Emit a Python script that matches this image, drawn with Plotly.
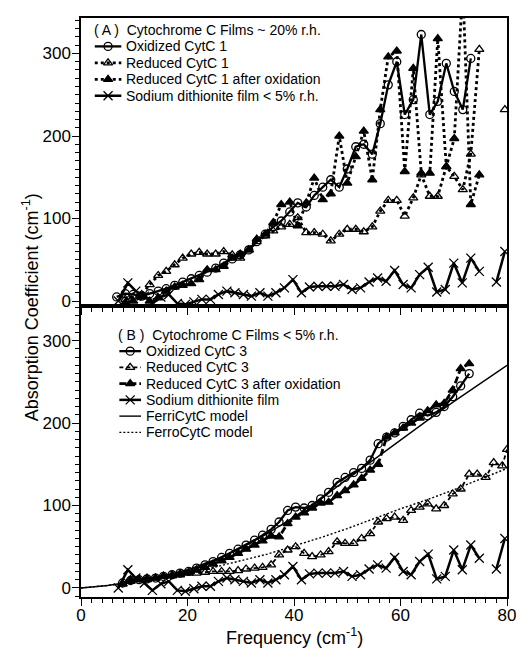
import plotly.graph_objects as go

# ---------------- Panel A data ----------------
oxA_x = [6.7, 8.3, 9.8, 11.4, 12.9, 14.5, 16.0, 17.6, 19.1, 20.7, 22.2, 23.7, 25.3, 26.8, 28.4, 29.9,
         31.5, 33.0, 34.6, 36.1, 37.6, 39.2, 40.7, 42.3, 43.8, 45.4, 46.9, 48.5, 50.0, 51.6, 53.1,
         54.7, 56.2, 57.7, 59.3, 60.8, 62.4, 63.9, 65.5, 67.0, 68.6, 70.1, 71.7, 73.2]
oxA_y = [5, 9, 8, 6, 9, 12, 15, 19, 23, 27, 31, 35, 40, 46, 51, 56,
         62, 72, 81, 90, 97, 108, 119, 114, 128, 138, 147, 138, 160, 187, 190,
         178, 215, 262, 290, 226, 244, 323, 226, 242, 288, 254, 232, 294]

redA_x = [8.3, 9.8, 11.4, 12.9, 14.5, 16.0, 17.6, 19.1, 20.7, 22.2, 23.7, 25.3, 26.8, 28.4, 29.9,
          31.5, 33.0, 34.6, 36.1, 37.6, 39.2, 40.7, 42.3, 43.8, 45.4, 46.9, 48.5, 50.0, 51.6, 53.1,
          54.7, 56.2, 57.7, 59.3, 60.8, 62.4, 63.9, 65.5, 67.0, 68.6, 70.1, 71.7, 73.2, 74.8, 77.2, 79.6]
redA_y = [2, 5, 8, 20, 31, 36, 44, 52, 57, 59, 57, 57, 60, 56, 52,
          62, 72, 79, 85, 90, 93, 101, 83, 83, 81, 73, 81, 87, 87, 84,
          90, 109, 122, 122, 103, 125, 153, 127, 127, 163, 151, 135, 178, 305, None, 232]

aftA_x = [8.3, 9.8, 11.4, 12.9, 14.5, 16.0, 17.6, 19.1, 20.7, 22.2, 23.7, 25.3, 26.8, 28.4, 29.9,
          31.5, 33.0, 34.6, 36.1, 37.6, 39.2, 40.7, 42.3, 43.8, 45.4, 46.9, 48.5, 50.0, 51.6, 53.1,
          54.7, 56.2, 57.7, 59.3, 60.8, 62.4, 63.9, 65.5, 67.0, 68.6, 70.1, 71.7, 73.2, 74.8]
aftA_y = [-2, 0, 5, 0, 4, 12, 17, 19, 21, 26, 38, 38, 42, 52, 57,
          62, 75, 81, 95, 117, 120, 91, 119, 149, 123, 130, 200, 143, 175, 206,
          147, 232, 296, 303, 157, 282, 155, 155, 318, 163, 197, 380, 117, 153]

# Sodium dithionite film (same data in both panels)
sod_x = [7.0, 8.8, 10.3, 11.9, 13.4, 15.0, 16.5, 18.1, 19.6, 21.2, 22.7, 24.3, 25.8, 27.4, 28.9,
         30.5, 32.0, 33.6, 35.1, 36.6, 38.2, 39.8, 41.4, 42.9, 44.5, 46.1, 47.7, 49.3, 50.9, 52.5,
         54.1, 55.7, 57.3, 58.9, 60.5, 62.0, 63.6, 65.2, 66.8, 68.4, 70.0, 71.6, 73.2, 74.8, 76.4,
         78.0, 79.6]
sod_y = [0, 22, 12, 6, -3, 5, 8, -3, -4, -1, 2, 2, 8, 12, 10,
         8, 6, 10, 6, 10, 16, 26, 10, 17, 18, 18, 18, 20, 14, 16,
         23, 28, 24, 37, 20, 16, 32, 41, 11, 14, 46, 22, 52, 36, None,
         23, 60]

# ---------------- Panel B data ----------------
b_x = [7.8, 9.3, 10.9, 12.4, 14.0, 15.5, 17.1, 18.6, 20.2, 21.7, 23.3, 24.8, 26.4, 27.9, 29.5,
       31.0, 32.6, 34.1, 35.7, 37.2, 38.8, 40.3, 41.9, 43.4, 45.0, 46.5, 48.1, 49.6, 51.2, 52.7,
       54.3, 55.8, 57.4, 58.9, 60.5, 62.0, 63.6, 65.1, 66.7, 68.2, 69.8, 71.3, 72.9]
oxB_y = [6, 9, 10, 11, 12, 14, 16, 18, 20, 24, 28, 32, 37, 42, 47,
         52, 58, 64, 71, 80, 94, 98, 97, 100, 108, 116, 128, 134, 140, 145,
         155, 175, 183, 188, 196, 204, 212, 209, 213, 220, 232, 245, 260]

redB_x = [7.8, 9.3, 10.9, 12.4, 14.0, 15.5, 17.1, 18.6, 20.2, 21.7, 23.3, 24.8, 26.4, 27.9, 29.5,
          31.0, 32.6, 34.1, 35.7, 37.2, 38.8, 40.3, 41.9, 43.4, 45.0, 46.5, 48.1, 49.6, 51.2, 52.7,
          54.3, 55.8, 57.4, 58.9, 60.5, 62.0, 63.6, 65.1, 66.7, 68.2, 69.8, 71.3, 72.9, 74.4, 76.0,
          77.5, 79.1, 80.0]
redB_y = [5, 10, 10, 12, 12, 14, 15, 16, 18, 18, 19, 20, 20, 20, 21,
          23, 24, 25, 28, 40, 46, 50, 42, 38, 40, 44, 56, 54, 54, 60,
          66, 80, 84, 86, 82, 94, 98, 102, 96, 100, 114, 120, 138, 138, 134,
          152, 148, 168]

aftB_y = [5, 8, 10, 10, 12, 14, 15, 17, 19, 22, 25, 29, 33, 37, 42,
          47, 52, 57, 63, 62, 78, 86, 91, 97, 103, 104, 112, 118, 125, 133,
          143, 150, 183, 188, 194, 200, 206, 215, 222, 224, 240, 266, 272]

model_x = [0, 5, 10, 15, 20, 25, 30, 35, 40, 45, 50, 55, 60, 65, 70, 75, 80]
ferri_y = [0, 3, 8, 14, 22, 34, 48, 66, 86, 108, 132, 156, 180, 203, 226, 248, 270]
ferro_y = [0, 3, 7, 12, 18, 25, 33, 41, 51, 61, 72, 84, 96, 107, 119, 132, 145]

x_ticks = [0, 20, 40, 60, 80]
y_ticks = [0, 100, 200, 300]

titleA = "( A )&nbsp;&nbsp;Cytochrome C Films ~ 20% r.h."
titleB = "( B )&nbsp;&nbsp;Cytochrome C Films < 5% r.h."

# ---------------- Figure ----------------
FONT = "Liberation Sans, Arial, Helvetica, sans-serif"
BLACK = "black"
OFF = 8                                  # page body margin of the browser
W, H = 524 - OFF, 650 - OFF              # figure size that fits the window without scrollbars
L, R, T, B = 81, 514, 16, 597            # plot-area edges in screen pixels
SPLIT_PX = 305                           # boundary between the two panels (screen px)

fig = go.Figure()

STYLES = {
    "ox":   dict(dash="solid", width=2.3, symbol="circle-open", size=8),
    "redA": dict(dash="dot", width=2.8, symbol="triangle-up-open", size=8),
    "aftA": dict(dash="dot", width=2.8, symbol="triangle-up", size=8),
    "sod":  dict(dash="solid", width=2.5, symbol="x-thin-open", size=9),
    "redB": dict(dash="4px,3px", width=1.8, symbol="triangle-up-open", size=8),
    "aftB": dict(dash="7px,3px", width=2.8, symbol="triangle-up", size=8),
    "ferri": dict(dash="solid", width=1.4, symbol=None, size=0),
    "ferro": dict(dash="2px,2px", width=1.4, symbol=None, size=0),
}


def add(x, y, name, style, xa, ya):
    s = STYLES[style]
    fig.add_trace(go.Scatter(
        x=x, y=y, name=name, mode="lines+markers" if s["symbol"] else "lines",
        line=dict(color=BLACK, width=s["width"], dash=s["dash"]),
        marker=dict(symbol=s["symbol"] or "circle", size=s["size"], color=BLACK,
                    line=dict(color=BLACK, width=1.3)),
        xaxis=xa, yaxis=ya, showlegend=False, connectgaps=False, cliponaxis=True))


# Panel A
add(oxA_x, oxA_y, "Oxidized CytC 1", "ox", "x", "y")
add(redA_x, redA_y, "Reduced CytC 1", "redA", "x", "y")
add(aftA_x, aftA_y, "Reduced CytC 1 after oxidation", "aftA", "x", "y")
add(sod_x, sod_y, "Sodium dithionite film < 5% r.h.", "sod", "x", "y")

# Panel B
add(model_x, ferri_y, "FerriCytC model", "ferri", "x2", "y2")
add(model_x, ferro_y, "FerroCytC model", "ferro", "x2", "y2")
add(b_x, oxB_y, "Oxidized CytC 3", "ox", "x2", "y2")
add(redB_x, redB_y, "Reduced CytC 3", "redB", "x2", "y2")
add(b_x, aftB_y, "Reduced CytC 3 after oxidation", "aftB", "x2", "y2")
add(sod_x, sod_y, "Sodium dithionite film", "sod", "x2", "y2")

# ---------------- Legends (keys drawn on a pixel-coordinate overlay axis) ----------------
legA = [("Oxidized CytC 1", "ox"), ("Reduced CytC 1", "redA"),
        ("Reduced CytC 1 after oxidation", "aftA"), ("Sodium dithionite film < 5% r.h.", "sod")]
legB = [("Oxidized CytC 3", "ox"), ("Reduced CytC 3", "redB"),
        ("Reduced CytC 3 after oxidation", "aftB"), ("Sodium dithionite film", "sod"),
        ("FerriCytC model", "ferri"), ("FerroCytC model", "ferro")]

annotations = []


def px(xs):
    return (xs - L) / float(R - L)


def py(ys):
    return (B - ys) / float(B - T)


def legend_block(entries, title, tx, ty, kx0, kx1, gap):
    annotations.append(dict(text=title, xref="paper", yref="paper", x=px(tx), y=py(ty),
                            xanchor="left", yanchor="middle", showarrow=False,
                            font=dict(family=FONT, size=14, color=BLACK)))
    for i, (label, style) in enumerate(entries):
        yy = ty + gap * (i + 1)
        s = STYLES[style]
        km = (kx0 + kx1) / 2
        fig.add_trace(go.Scatter(
            x=[kx0, km, kx1], y=[yy, yy, yy],
            mode="lines+markers" if s["symbol"] else "lines",
            line=dict(color=BLACK, width=s["width"], dash=s["dash"]),
            marker=dict(symbol=s["symbol"] or "circle", size=s["size"], color=BLACK,
                        opacity=[0, 1, 0], line=dict(color=BLACK, width=1.3)),
            xaxis="x3", yaxis="y3", showlegend=False, hoverinfo="skip"))
        annotations.append(dict(text=label, xref="paper", yref="paper", x=px(kx1 + 3), y=py(yy),
                                xanchor="left", yanchor="middle", showarrow=False,
                                font=dict(family=FONT, size=14, color=BLACK)))


legend_block(legA, titleA, 92, 28, 95, 122, 16.5)
legend_block(legB, titleB, 117, 334, 120, 142, 16.3)

annotations.append(dict(text="Absorption Coefficient (cm<sup>-1</sup>)", textangle=-90,
                        xref="paper", yref="paper", x=px(30), y=py((T + B) / 2),
                        xanchor="center", yanchor="middle", showarrow=False,
                        font=dict(family=FONT, size=18, color=BLACK)))
annotations.append(dict(text="Frequency (cm<sup>-1</sup>)", xref="paper", yref="paper",
                        x=px((L + R) / 2), y=py(637), xanchor="center", yanchor="middle",
                        showarrow=False, font=dict(family=FONT, size=18, color=BLACK)))

split = (B - SPLIT_PX) / float(B - T)

xcommon = dict(range=[0, 80], showgrid=False, zeroline=False, showline=True, linecolor=BLACK,
               linewidth=1.5, mirror=True, ticks="outside", ticklen=7, tickwidth=1.3,
               tickcolor=BLACK, tickvals=x_ticks, ticklabelstandoff=-5,
               minor=dict(ticks="outside", ticklen=4, dtick=2, tick0=0, tickcolor=BLACK, tickwidth=1),
               tickfont=dict(family=FONT, size=17, color=BLACK))
ycommon = dict(showgrid=False, zeroline=False, showline=True, linecolor=BLACK, linewidth=1.5,
               mirror=True, ticks="outside", ticklen=7, tickwidth=1.3, tickcolor=BLACK,
               tickvals=y_ticks, ticklabelstandoff=-2,
               minor=dict(ticks="outside", ticklen=4, dtick=10, tick0=0, tickcolor=BLACK, tickwidth=1),
               tickfont=dict(family=FONT, size=17, color=BLACK))

fig.update_layout(
    width=W, height=H,
    margin=dict(l=L - OFF, r=W - (R - OFF), t=T - OFF, b=H - (B - OFF)),
    paper_bgcolor="white", plot_bgcolor="rgba(0,0,0,0)",
    font=dict(family=FONT, color=BLACK),
    showlegend=False,
    xaxis=dict(xcommon, anchor="y", showticklabels=False),
    yaxis=dict(ycommon, domain=[split, 1], range=[-6, 343], anchor="x"),
    xaxis2=dict(xcommon, anchor="y2"),
    yaxis2=dict(ycommon, domain=[0, split], range=[-11, 342], anchor="x2"),
    xaxis3=dict(domain=[0, 1], range=[L, R], visible=False, anchor="y3", fixedrange=True),
    yaxis3=dict(domain=[0, 1], range=[B, T], visible=False, anchor="x3", fixedrange=True),
    annotations=annotations,
)

fig.write_html("out.html")
